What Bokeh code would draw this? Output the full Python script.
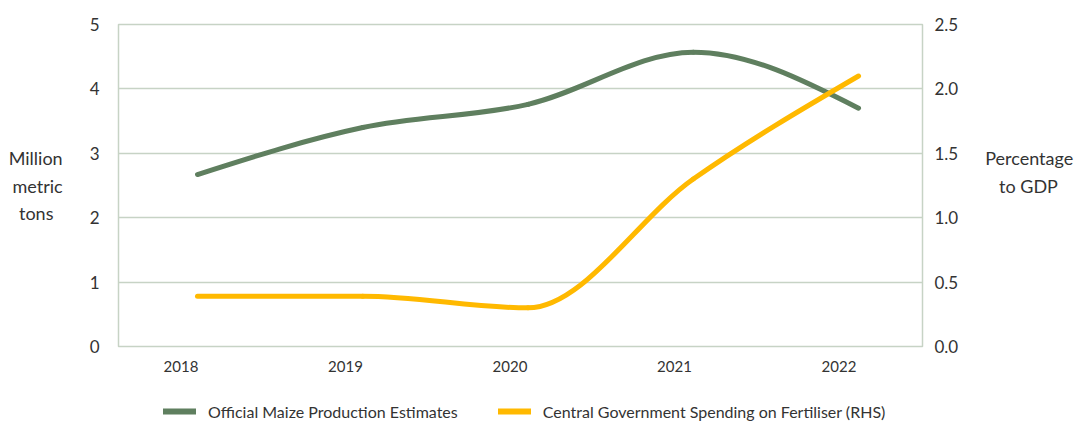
import numpy as np
from bokeh.plotting import figure
from bokeh.layouts import column
from bokeh.models import (Range1d, LinearAxis, FixedTicker, ColumnDataSource,
                          Legend, LegendItem, Grid)
from bokeh.embed import file_html
from bokeh.resources import INLINE

# ---- data ----
years = [2018, 2019, 2020, 2021, 2022]
maize = [2.67, 3.40, 3.76, 4.57, 3.70]          # million metric tons (LHS)
fertiliser = [0.39, 0.39, 0.30, 1.30, 2.10]     # % of GDP (RHS)
left_ticks = [0, 1, 2, 3, 4, 5]
right_ticks = [0.0, 0.5, 1.0, 1.5, 2.0, 2.5]
year_labels = ["2018", "2019", "2020", "2021", "2022"]
series_names = ["Official Maize Production Estimates",
                "Central Government Spending on Fertiliser (RHS)"]
NB = "\u00a0"
left_title = "Million\nmetric\ntons" + NB * 2
right_title = "Percentage\n" + NB * 3 + "to GDP\n" + NB

GREEN = "#5F7F5F"
YELLOW = "#FFB900"
GRID = "#C7D3C5"
TEXT = "#333333"
FONT = "Lato"


def monotone_bezier(xs, ys):
    """Monotone-X cubic segments (as d3.curveMonotoneX) expressed as Bezier controls."""
    xs = np.asarray(xs, float)
    ys = np.asarray(ys, float)
    n = len(xs)
    h = np.diff(xs)
    s = np.diff(ys) / h
    t = np.zeros(n)
    for i in range(1, n - 1):
        p = (s[i - 1] * h[i] + s[i] * h[i - 1]) / (h[i - 1] + h[i])
        sg = np.sign(s[i - 1]) + np.sign(s[i])
        t[i] = sg * min(abs(s[i - 1]), abs(s[i]), 0.5 * abs(p))
    t[0] = (3 * s[0] - t[1]) / 2
    t[-1] = (3 * s[-1] - t[-2]) / 2
    d = dict(x0=[], y0=[], x1=[], y1=[], cx0=[], cy0=[], cx1=[], cy1=[])
    for i in range(n - 1):
        dx = (xs[i + 1] - xs[i]) / 3
        d["x0"].append(xs[i]); d["y0"].append(ys[i])
        d["x1"].append(xs[i + 1]); d["y1"].append(ys[i + 1])
        d["cx0"].append(xs[i] + dx); d["cy0"].append(ys[i] + dx * t[i])
        d["cx1"].append(xs[i + 1] - dx); d["cy1"].append(ys[i + 1] - dx * t[i + 1])
    return ColumnDataSource(d)


p = figure(width=1077, height=386, output_backend="svg", toolbar_location=None,
           x_axis_type=None, y_axis_type=None,
           x_range=Range1d(2017.522, 2022.387), y_range=Range1d(0, 5),
           min_border_left=118, min_border_right=155, min_border_top=24,
           min_border_bottom=40)
p.extra_y_ranges = {"rhs": Range1d(0, 2.5)}
p.extra_x_ranges = {"lab": Range1d(2017.620, 2022.508)}
p.background_fill_color = "white"
p.border_fill_color = "white"
p.outline_line_color = GRID
p.outline_line_width = 1.5

# axes
ly = LinearAxis(ticker=FixedTicker(ticks=left_ticks), axis_label=left_title)
ry = LinearAxis(y_range_name="rhs", ticker=FixedTicker(ticks=right_ticks),
                axis_label=right_title)
ry.major_label_overrides = {v: f"{v:.1f}" for v in right_ticks}
bx = LinearAxis(x_range_name="lab", ticker=FixedTicker(ticks=years))
bx.major_label_overrides = {y: lab for y, lab in zip(years, year_labels)}
for ax, size, standoff in ((ly, "17px", 19), (ry, "17px", 12), (bx, "15px", 14)):
    ax.axis_line_color = None
    ax.major_tick_line_color = None
    ax.minor_tick_line_color = None
    ax.major_tick_out = 0
    ax.major_tick_in = 0
    ax.minor_tick_out = 0
    ax.major_label_text_font = FONT
    ax.major_label_text_font_size = size
    ax.major_label_text_color = TEXT
    ax.major_label_standoff = standoff
for ax, st in ((ly, 24), (ry, 24)):
    ax.axis_label_orientation = "horizontal"
    ax.axis_label_standoff = st
    ax.axis_label_text_font = FONT
    ax.axis_label_text_font_size = "18px"
    ax.axis_label_text_font_style = "normal"
    ax.axis_label_text_color = TEXT
    ax.axis_label_text_line_height = 1.23
p.add_layout(ly, "left")
p.add_layout(ry, "right")
p.add_layout(bx, "below")

grid = Grid(dimension=1, ticker=FixedTicker(ticks=left_ticks[1:-1]),
            grid_line_color=GRID, grid_line_width=1.5)
p.add_layout(grid)

# series
p.bezier(x0="x0", y0="y0", x1="x1", y1="y1", cx0="cx0", cy0="cy0", cx1="cx1", cy1="cy1",
         source=monotone_bezier(years, maize), line_color=GREEN, line_width=5,
         line_cap="round")
p.bezier(x0="x0", y0="y0", x1="x1", y1="y1", cx0="cx0", cy0="cy0", cx1="cx1", cy1="cy1",
         source=monotone_bezier(years, fertiliser), line_color=YELLOW, line_width=5,
         line_cap="round", y_range_name="rhs")

# legend strip (separate figure below the chart; its frame aligns with the chart frame)
q = figure(width=1077, height=35, output_backend="svg", toolbar_location=None,
           x_axis_type=None, y_axis_type=None, x_range=Range1d(0, 1), y_range=Range1d(0, 1),
           min_border=0, outline_line_color=None)
q.xgrid.visible = False
q.ygrid.visible = False
# proxy renderers carry the series (they fall outside this strip's ranges)
lg = q.line(x=years, y=maize, line_color=GREEN, line_width=6, line_cap="round")
lyr = q.line(x=years, y=fertiliser, line_color=YELLOW, line_width=6, line_cap="round")
legend = Legend(items=[LegendItem(label=series_names[0], renderers=[lg]),
                       LegendItem(label=series_names[1], renderers=[lyr])],
                orientation="horizontal", location=(45, 0),
                padding=0, margin=0, spacing=40, glyph_width=33, glyph_height=20,
                label_height=20,
                label_standoff=12, label_text_font=FONT, label_text_font_size="16px",
                label_text_color=TEXT, border_line_alpha=0, background_fill_alpha=0)
q.add_layout(legend, "center")

layout = column(p, q, spacing=0)
open("out.html", "w").write(file_html(layout, INLINE))
